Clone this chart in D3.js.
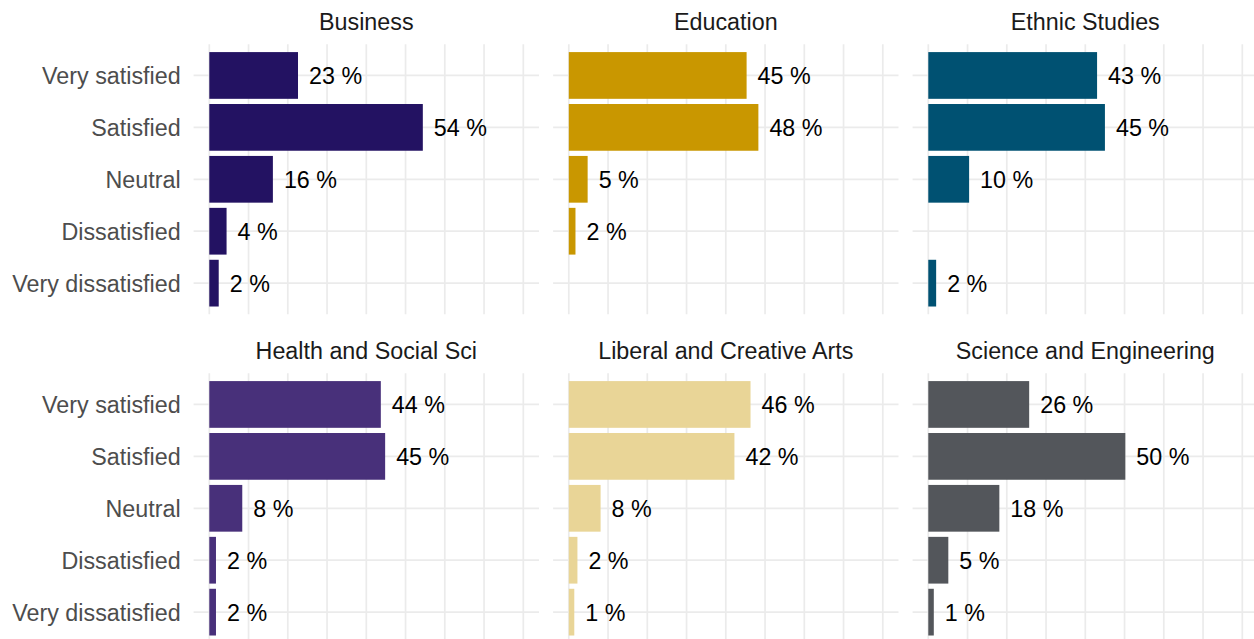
<!DOCTYPE html>
<html>
<head>
<meta charset="utf-8">
<script src="https://cdn.jsdelivr.net/npm/d3@7"></script>
<style>
  html, body { margin: 0; padding: 0; background: #ffffff; }
  svg { display: block; }
  text { font-family: "Liberation Sans", Arial, Helvetica, sans-serif; }
</style>
</head>
<body>
<svg id="chart" width="1254" height="639"></svg>
<script>
// ---- data ----
const levels = ["Very satisfied", "Satisfied", "Neutral", "Dissatisfied", "Very dissatisfied"];
const colleges = ["Business", "Education", "Ethnic Studies", "Health and Social Sci", "Liberal and Creative Arts", "Science and Engineering"];
const collegeColors = ["#231262", "#C99700", "#005172", "#48307A", "#E9D597", "#53565B"];
const business            = [0.226, 0.544, 0.162, 0.044, 0.024];
const education           = [0.453, 0.483, 0.048, 0.017, null];
const ethnicStudies       = [0.430, 0.450, 0.104, null,  0.020];
const healthSocialSci     = [0.437, 0.448, 0.084, 0.017, 0.017];
const liberalCreativeArts = [0.463, 0.422, 0.081, 0.022, 0.014];
const scienceEngineering  = [0.257, 0.502, 0.181, 0.051, 0.014];
const xGridTicks = [0, 0.1, 0.2, 0.3, 0.4, 0.5, 0.6, 0.7, 0.8];

const seriesValues = [business, education, ethnicStudies, healthSocialSci, liberalCreativeArts, scienceEngineering];

// ---- layout ----
const svg = d3.select("#chart");
const W = 1254, H = 639;
svg.append("rect").attr("width", W).attr("height", H).attr("fill", "#ffffff");

const panelLeft0 = 193.6, panelW = 345.4, colStep = 359.5;
const panelTop0 = 44.3, panelH = 270, rowStep = 329;
const fontSize = 23.3;

const xDomainMax = 0.8;
const expand = 0.05 * xDomainMax;

colleges.forEach((college, i) => {
  const col = i % 3, row = Math.floor(i / 3);
  const left = panelLeft0 + col * colStep;
  const top = panelTop0 + row * rowStep;

  const x = d3.scaleLinear()
    .domain([-expand, xDomainMax + expand])
    .range([left, left + panelW]);
  const y = d3.scaleBand()
    .domain(levels)
    .range([top, top + panelH])
    .paddingInner(0.1)
    .paddingOuter(0.15);

  const g = svg.append("g").attr("class", "panel");

  // vertical grid
  g.selectAll("line.vgrid").data(xGridTicks).join("line")
    .attr("class", "vgrid")
    .attr("x1", d => x(d)).attr("x2", d => x(d))
    .attr("y1", top).attr("y2", top + panelH)
    .attr("stroke", "#EBEBEB").attr("stroke-width", 1.7);

  // horizontal grid
  g.selectAll("line.hgrid").data(levels).join("line")
    .attr("class", "hgrid")
    .attr("x1", left).attr("x2", left + panelW)
    .attr("y1", d => y(d) + y.bandwidth() / 2)
    .attr("y2", d => y(d) + y.bandwidth() / 2)
    .attr("stroke", "#EBEBEB").attr("stroke-width", 1.7);

  const data = levels.map((lv, k) => ({ level: lv, value: seriesValues[i][k] }))
    .filter(d => d.value !== null);

  // bars
  g.selectAll("rect.bar").data(data).join("rect")
    .attr("class", "bar")
    .attr("x", x(0))
    .attr("y", d => y(d.level))
    .attr("width", d => x(d.value) - x(0))
    .attr("height", y.bandwidth())
    .attr("fill", collegeColors[i]);

  // value labels
  g.selectAll("text.lab").data(data).join("text")
    .attr("class", "lab")
    .attr("x", d => x(d.value) + 11)
    .attr("y", d => y(d.level) + y.bandwidth() / 2)
    .attr("dy", "0.36em")
    .attr("text-anchor", "start")
    .attr("font-size", fontSize)
    .attr("fill", "#000000")
    .text(d => Math.round(d.value * 100) + " %");

  // strip title
  g.append("text")
    .attr("x", left + panelW / 2)
    .attr("y", top - 14.3)
    .attr("text-anchor", "middle")
    .attr("font-size", fontSize)
    .attr("fill", "#1A1A1A")
    .text(college);

  // y axis on first column
  if (col === 0) {
    const ax = svg.append("g")
      .attr("transform", `translate(${left},0)`)
      .call(d3.axisLeft(y).tickSize(0).tickPadding(13));
    ax.select(".domain").remove();
    ax.selectAll("text")
      .attr("font-size", fontSize)
      .attr("font-family", "'Liberation Sans', Arial, sans-serif")
      .attr("fill", "#4D4D4D")
      .attr("dy", "0.36em");
  }
});
</script>
</body>
</html>
